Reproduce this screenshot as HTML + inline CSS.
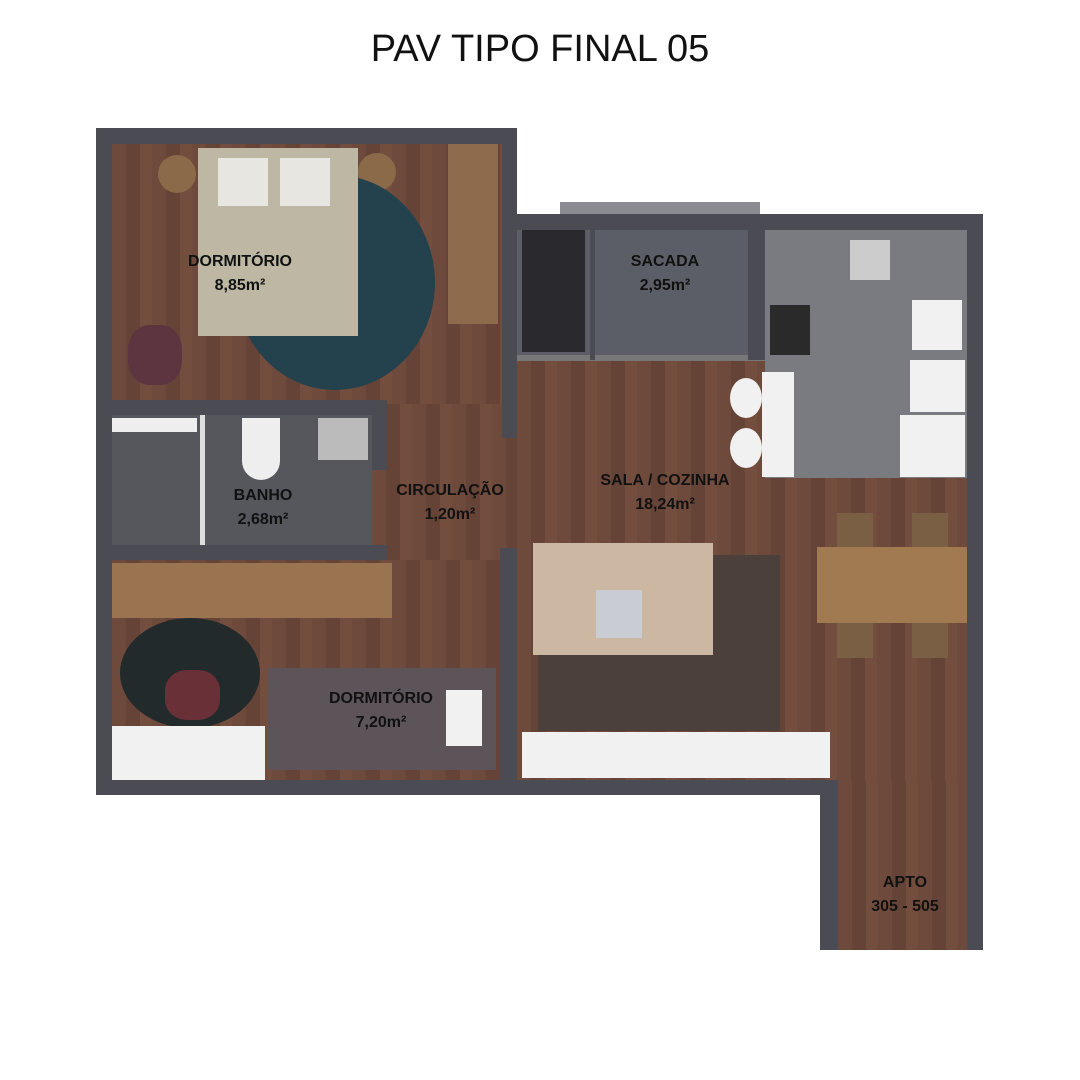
<!DOCTYPE html>
<html><head><meta charset="utf-8"><style>
body{margin:0;width:1080px;height:1080px;background:#fff;position:relative;overflow:hidden;font-family:"Liberation Sans",sans-serif}
div{position:absolute;box-sizing:border-box}
.w{background:#4b4b53}
.wood{background:repeating-linear-gradient(90deg,#6e4a3c 0 14px,#654336 14px 28px,#734e3f 28px 40px)}
.l{font-weight:bold;font-size:16px;color:#111;text-align:center;line-height:24px;width:200px}
.wh{background:#f1f1f1}
</style></head><body>
<div style="left:0;top:28px;width:1080px;text-align:center;font-size:38px;color:#111">PAV TIPO FINAL 05</div>

<!-- floors -->
<div class="wood" style="left:112px;top:144px;width:390px;height:260px"></div>
<div class="wood" style="left:372px;top:404px;width:150px;height:376px"></div>
<div class="wood" style="left:112px;top:560px;width:390px;height:220px"></div>
<div class="wood" style="left:517px;top:360px;width:450px;height:420px"></div>
<div class="wood" style="left:838px;top:780px;width:129px;height:170px"></div>
<div style="left:517px;top:230px;width:248px;height:130px;background:#5b5e66"></div>
<div style="left:765px;top:230px;width:202px;height:248px;background:#7a7b80"></div>
<div style="left:112px;top:415px;width:260px;height:133px;background:#55575d"></div>

<!-- walls -->
<div class="w" style="left:96px;top:128px;width:421px;height:16px"></div>
<div class="w" style="left:96px;top:128px;width:16px;height:667px"></div>
<div class="w" style="left:502px;top:128px;width:15px;height:310px"></div>
<div class="w" style="left:517px;top:214px;width:466px;height:16px"></div>
<div style="left:560px;top:202px;width:200px;height:12px;background:#8a8c92"></div>
<div class="w" style="left:967px;top:214px;width:16px;height:736px"></div>
<div class="w" style="left:96px;top:780px;width:742px;height:15px"></div>
<div class="w" style="left:820px;top:780px;width:18px;height:170px"></div>
<div class="w" style="left:112px;top:400px;width:275px;height:15px"></div>
<div class="w" style="left:372px;top:400px;width:15px;height:70px"></div>
<div class="w" style="left:112px;top:545px;width:275px;height:15px"></div>
<div class="w" style="left:500px;top:548px;width:17px;height:232px"></div>
<div class="w" style="left:517px;top:355px;width:248px;height:6px;background:#777"></div>
<div class="w" style="left:590px;top:230px;width:5px;height:130px"></div>
<div class="w" style="left:748px;top:230px;width:17px;height:130px"></div>
<div class="w" style="left:200px;top:415px;width:5px;height:130px;background:#ddd"></div>

<!-- bedroom 1 furniture -->
<div style="left:158px;top:155px;width:38px;height:38px;border-radius:50%;background:#8a6a48"></div>
<div style="left:358px;top:153px;width:38px;height:38px;border-radius:50%;background:#8a6a48"></div>
<div style="left:235px;top:175px;width:200px;height:215px;border-radius:50%;background:#23424d"></div>
<div style="left:198px;top:148px;width:160px;height:188px;background:#bdb7a4"></div>
<div style="left:218px;top:158px;width:50px;height:48px;background:#e8e6e0"></div>
<div style="left:280px;top:158px;width:50px;height:48px;background:#e8e6e0"></div>
<div style="left:448px;top:144px;width:50px;height:180px;background:#8d6b4c"></div>
<div style="left:128px;top:325px;width:54px;height:60px;border-radius:40%;background:#5c3540"></div>
<div style="left:522px;top:230px;width:63px;height:122px;background:#2a2a2e"></div>

<!-- bath -->
<div style="left:112px;top:418px;width:85px;height:14px;background:#eee"></div>
<div style="left:242px;top:418px;width:38px;height:62px;border-radius:0 0 20px 20px;background:#eee"></div>
<div style="left:318px;top:418px;width:50px;height:42px;background:#bbb"></div>

<!-- kitchen -->
<div class="wh" style="left:850px;top:240px;width:40px;height:40px;background:#ccc"></div>
<div style="left:770px;top:305px;width:40px;height:50px;background:#2a2a2a"></div>
<div class="wh" style="left:912px;top:300px;width:50px;height:50px"></div>
<div class="wh" style="left:910px;top:360px;width:55px;height:52px"></div>
<div class="wh" style="left:900px;top:415px;width:65px;height:62px"></div>
<div class="wh" style="left:762px;top:372px;width:32px;height:105px"></div>
<div class="wh" style="left:730px;top:378px;width:32px;height:40px;border-radius:50%"></div>
<div class="wh" style="left:730px;top:428px;width:32px;height:40px;border-radius:50%"></div>

<!-- living -->
<div style="left:538px;top:555px;width:242px;height:176px;background:#4c403d"></div>
<div style="left:533px;top:543px;width:180px;height:112px;background:#cbb7a2"></div>
<div style="left:596px;top:590px;width:46px;height:48px;background:#c9ccd2"></div>
<div style="left:837px;top:513px;width:36px;height:145px;background:#7a5f45"></div>
<div style="left:912px;top:513px;width:36px;height:145px;background:#7a5f45"></div>
<div style="left:817px;top:547px;width:150px;height:76px;background:#a27a52"></div>
<div class="wh" style="left:522px;top:732px;width:308px;height:46px"></div>

<!-- bedroom 2 -->
<div style="left:112px;top:563px;width:280px;height:55px;background:#9a7450"></div>
<div style="left:120px;top:618px;width:140px;height:110px;border-radius:50%;background:#222a2c"></div>
<div style="left:165px;top:670px;width:55px;height:50px;border-radius:40%;background:#6a3038"></div>
<div style="left:268px;top:668px;width:228px;height:102px;background:#5c5459"></div>
<div class="wh" style="left:446px;top:690px;width:36px;height:56px"></div>
<div class="wh" style="left:112px;top:726px;width:153px;height:54px"></div>

<!-- labels -->
<div class="l" style="left:140px;top:250px">DORMITÓRIO<br>8,85m²</div>
<div class="l" style="left:565px;top:250px">SACADA<br>2,95m²</div>
<div class="l" style="left:163px;top:484px">BANHO<br>2,68m²</div>
<div class="l" style="left:350px;top:479px">CIRCULAÇÃO<br>1,20m²</div>
<div class="l" style="left:565px;top:469px">SALA / COZINHA<br>18,24m²</div>
<div class="l" style="left:281px;top:687px">DORMITÓRIO<br>7,20m²</div>
<div class="l" style="left:805px;top:871px">APTO<br>305 - 505</div>
</body></html>
